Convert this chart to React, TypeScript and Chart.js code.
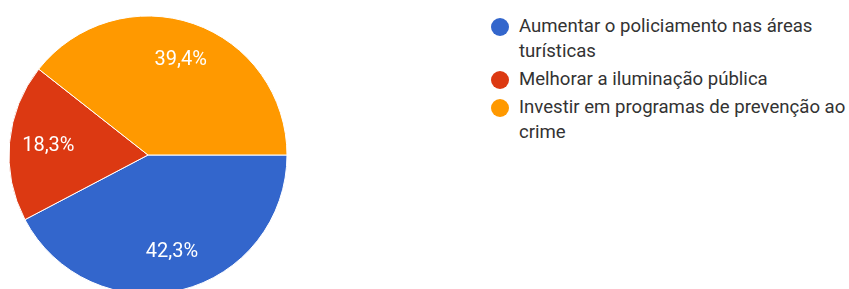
import React, { useEffect, useRef } from "react";
import { Chart, registerables } from "chart.js";

Chart.register(...registerables);

const categories = [
  "Aumentar o policiamento nas áreas turísticas",
  "Melhorar a iluminação pública",
  "Investir em programas de prevenção ao crime",
];
const values = [42.3, 18.3, 39.4];
const colors = ["#3366CC", "#DC3912", "#FF9900"];

const fmt = (v: number) => v.toFixed(1).replace(".", ",") + "%";

const labelPlugin = {
  id: "sliceLabels",
  afterDatasetsDraw(chart: any) {
    const meta = chart.getDatasetMeta(0);
    const ctx = chart.ctx;
    ctx.save();
    ctx.fillStyle = "#ffffff";
    ctx.font = "20px Roboto";
    ctx.textAlign = "center";
    ctx.textBaseline = "middle";
    meta.data.forEach((arc: any, i: number) => {
      const p = arc.getProps(["x", "y", "startAngle", "endAngle", "outerRadius"], true);
      const mid = (p.startAngle + p.endAngle) / 2;
      const r = p.outerRadius * 0.72;
      ctx.fillText(fmt(values[i]), p.x + Math.cos(mid) * r, p.y + Math.sin(mid) * r);
    });
    ctx.restore();
  },
};

export default function App() {
  const ref = useRef<HTMLCanvasElement>(null);
  useEffect(() => {
    const chart = new Chart(ref.current!, {
      type: "pie",
      data: {
        labels: categories,
        datasets: [
          {
            data: values,
            backgroundColor: colors,
            borderColor: "#ffffff",
            borderWidth: 1,
          },
        ],
      },
      options: {
        responsive: false,
        animation: false,
        rotation: 90,
        radius: 139,
        layout: { padding: 0 },
        plugins: {
          legend: { display: false },
          tooltip: { enabled: false },
        },
      },
      plugins: [labelPlugin],
    });
    return () => chart.destroy();
  }, []);

  return (
    <div
      style={{
        position: "fixed",
        left: 0,
        top: 0,
        width: 849,
        height: 289,
        overflow: "hidden",
        background: "#ffffff",
      }}
    >
      <canvas
        ref={ref}
        width={296}
        height={310}
        style={{ position: "absolute", left: 0, top: 0, width: 296, height: 310 }}
      />
      <div
        style={{
          position: "absolute",
          left: 491,
          top: 14,
          width: 358,
          fontFamily: "Roboto, sans-serif",
          fontSize: 18.6,
          lineHeight: "25px",
          color: "#333333",
        }}
      >
        {categories.map((c, i) => (
          <div key={i} style={{ display: "flex", alignItems: "flex-start", marginBottom: 3 }}>
            <span
              style={{
                flex: "0 0 auto",
                width: 18,
                height: 18,
                borderRadius: "50%",
                background: colors[i],
                marginTop: 4,
                marginRight: 10,
              }}
            />
            <span style={{ width: 330 }}>{c}</span>
          </div>
        ))}
      </div>
    </div>
  );
}
